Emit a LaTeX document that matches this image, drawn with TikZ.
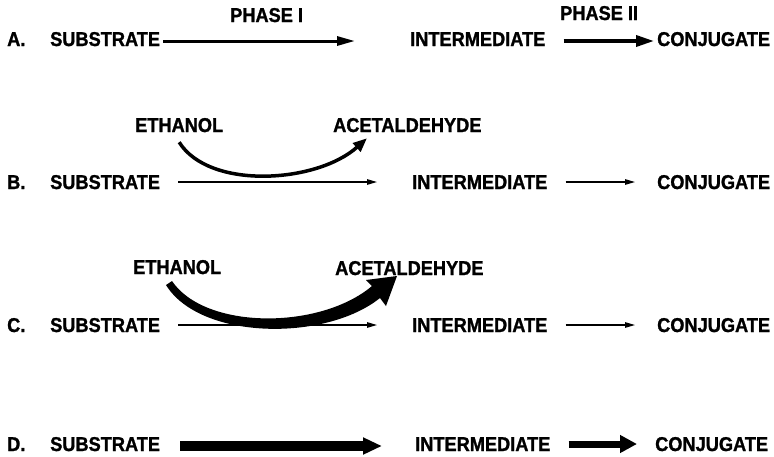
\documentclass[tikz,border=0pt]{standalone}
\usepackage{fontspec}
\setmainfont{Liberation Sans}[FakeStretch=0.91, BoldFeatures={FakeBold=1.2}]
\usetikzlibrary{arrows.meta}

\begin{document}
\begin{tikzpicture}[x=1pt, y=-1pt,
    lbl/.style={font=\bfseries\fontsize{20}{20}\selectfont, inner sep=0pt,
        text height=14pt, text depth=0pt, anchor=west},
    thinarrow/.style={line width=1.2pt, -{Triangle[length=10pt,width=5.5pt]}},
    midarrow/.style={line width=3pt, -{Triangle[length=18pt,width=9pt]}},
    fatarrow/.style={line width=10pt, -{Triangle[length=19pt,width=16pt]}},
    ethcurve/.style={line width=3.5pt, -{Triangle[length=14pt,width=11pt]}}]

    \useasboundingbox (0,0) rectangle (774,456);

    % row heights
    \def\rowA{39}
    \def\rowB{182}
    \def\rowC{325}
    \def\rowD{444}

    % A: the two phases
    \node[lbl] (labA) at (7,\rowA) {A.};
    \node[lbl] (subA) at (50,\rowA) {SUBSTRATE};
    \node[lbl] (intA) at (410,\rowA) {INTERMEDIATE};
    \node[lbl] (conA) at (657,\rowA) {CONJUGATE};
    \node[lbl] (ph1) at (230,15) {PHASE I};
    \node[lbl] (ph2) at (560,13) {PHASE II};
    \draw[midarrow, shorten <=3pt, shorten >=55pt] ([yshift=-2pt]subA.east) -- ([yshift=-2pt]intA.west);
    \draw[midarrow, line width=3.5pt, -{Triangle[length=18pt,width=11pt]}, shorten <=18pt, shorten >=3pt]
        ([yshift=-2pt]intA.east) -- ([yshift=-2pt]conA.west);

    % B: ethanol with a small turnover
    \node[lbl] (labB) at (7,\rowB) {B.};
    \node[lbl] (subB) at (50,\rowB) {SUBSTRATE};
    \node[lbl] (intB) at (412,\rowB) {INTERMEDIATE};
    \node[lbl] (conB) at (657,\rowB) {CONJUGATE};
    \node[lbl] (ethB) at (135,125) {ETHANOL};
    \node[lbl] (aceB) at (333,125) {ACETALDEHYDE};
    \draw[thinarrow, shorten <=18pt, shorten >=35pt] (subB) -- (intB);
    \draw[thinarrow, shorten <=18pt, shorten >=22pt] (intB) -- (conB);
    \draw[ethcurve] ([yshift=-10pt]ethB.south) .. controls +(30,48) and +(-50,45)
        .. ([xshift=34pt,yshift=-6pt]aceB.south west);

    % C: ethanol with a large turnover (tapered arrow)
    \node[lbl] (labC) at (7,\rowC) {C.};
    \node[lbl] (subC) at (50,\rowC) {SUBSTRATE};
    \node[lbl] (intC) at (412,\rowC) {INTERMEDIATE};
    \node[lbl] (conC) at (657,\rowC) {CONJUGATE};
    \node[lbl] (ethC) at (133,267) {ETHANOL};
    \node[lbl] (aceC) at (335,268) {ACETALDEHYDE};
    \draw[thinarrow, shorten <=18pt, shorten >=35pt] (subC) -- (intC);
    \draw[thinarrow, shorten <=18pt, shorten >=22pt] (intC) -- (conC);
    \fill[black] (172,281) .. controls (205,330) and (320,330) .. (372,286)
        -- (366,280) -- (397,276) -- (386,306) -- (380,298)
        .. controls (325,342) and (200,340) .. (166,285) -- cycle;

    % D: induced pathway
    \node[lbl] (labD) at (7,\rowD) {D.};
    \node[lbl] (subD) at (50,\rowD) {SUBSTRATE};
    \node[lbl] (intD) at (415,\rowD) {INTERMEDIATE};
    \node[lbl] (conD) at (655,\rowD) {CONJUGATE};
    \draw[fatarrow, shorten <=20pt, shorten >=33pt] ([yshift=-2pt]subD.east) -- ([yshift=-2pt]intD.west);
    \draw[fatarrow, line width=7pt, -{Triangle[length=17pt,width=17pt]}, shorten <=18pt, shorten >=18pt]
        (intD) -- (conD);

\end{tikzpicture}
\end{document}
